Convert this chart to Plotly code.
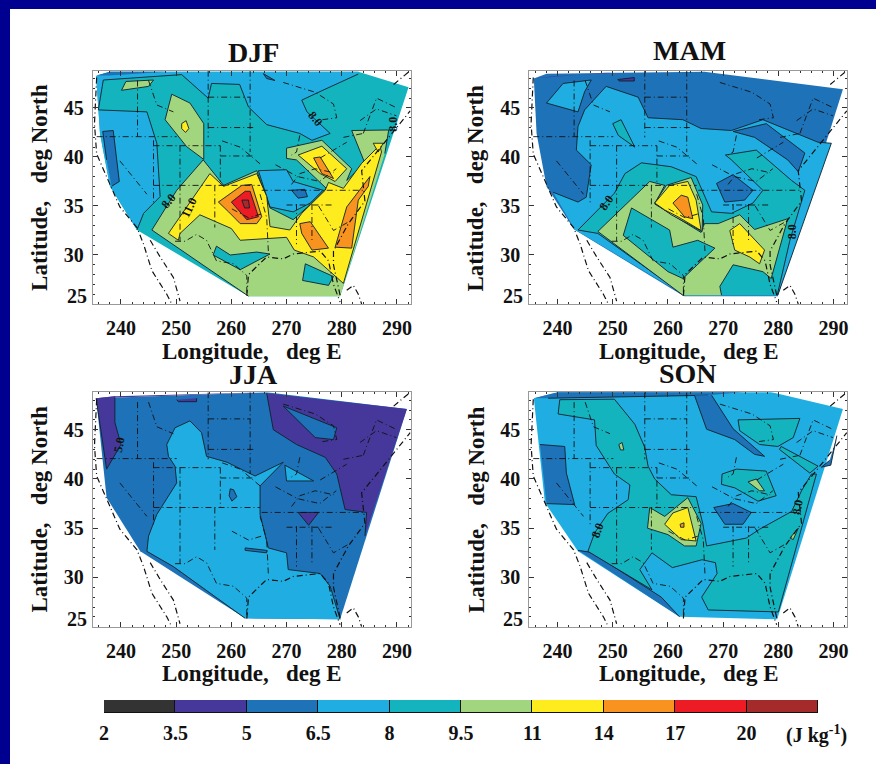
import plotly.graph_objects as go

# contour band lower bounds -> colours
LEVELS = [2, 3.5, 5, 6.5, 8, 9.5, 11, 14, 17, 20]
COLORS = ["#333333", "#45389A", "#1E72B8", "#20AEE2", "#14B4BE", "#A2D67E",
          "#FFEC1E", "#F7931E", "#ED1C24", "#A52A2A"]
COLOR_OF = dict(zip(LEVELS, COLORS))
PANELS = ["DJF", "MAM", "JJA", "SON"]
LON_TICKS = [240, 250, 260, 270, 280, 290]
LAT_TICKS = [30, 35, 40, 45]

DJF_HULL = ([235.5, 238, 283, 292.1, 279.7, 263.1, 242.9, 238, 236.2],
            [48.26, 48.7, 48.7, 47.1, 25.8, 25.8, 32.55, 37, 42.4])
MAM_HULL = ([235.7, 238, 266.6, 291.7, 279.9, 262.9, 243, 238, 236.2],
            [48, 48.5, 48.7, 46.9, 25.8, 25.8, 32.6, 37, 42.4])
JJA_HULL = ([235.5, 266.4, 291.8, 279.7, 262.5, 243.5, 237.4],
            [48.2, 48.8, 47.1, 25.75, 25.85, 32.65, 38.1])
SON_HULL = ([235.7, 240.7, 278.1, 291.7, 279.8, 262.1, 243.7, 237.7],
            [48.2, 48.9, 48.9, 47.1, 25.75, 26, 32.65, 37.6])

# each band: (lower bound, longitudes, latitudes), painted in order
DJF_BANDS = [
    (8, DJF_HULL[0], DJF_HULL[1]),
    (6.5, [235.5, 238, 283, 283, 276.4, 272.75, 273.7, 277.9, 274.6, 272.4, 266.4, 263.1, 261.5, 256.4, 255.8, 251, 236.8, 235.9, 244.7, 246.5, 247.1, 244.1, 242.9, 238, 236.2],
          [48.26, 48.7, 48.7, 48.46, 46.76, 45.8, 44.6, 42.4, 41.7, 42.4, 43.3, 45.1, 47.4, 47.5, 46, 48.4, 47.85, 44.8, 44.6, 41.4, 35.95, 34.25, 32.55, 37, 42.4]),
    (6.5, [264.9, 270, 271.2, 276.6, 274.3, 271.2, 267], [38.6, 38.7, 37.5, 36.6, 35.3, 34.4, 34.9]),
    (5, [235.5, 238, 248.3, 238], [48.3, 48.7, 48.7, 48.3]),
    (5, [236.7, 238.6, 239.7, 238.3, 237.4], [42.6, 42.7, 37.5, 37, 39.7]),
    (5, [270.9, 273.3, 273.8, 272.1], [36.6, 36.7, 35.95, 35.8]),
    (5, [265.8, 267.9, 266.4], [48.5, 47.8, 48]),
    (9.5, [254.9, 258.6, 264.6, 267, 271.2, 274, 277.2, 271.8, 270, 270, 276.4, 281.8, 280.9, 284.2, 281.8, 288.5, 287.8, 280.3, 279.7, 263.1, 245.6, 250.1],
          [39.7, 37.1, 38.6, 34.8, 33.6, 35, 36.8, 39.7, 39.85, 40.9, 41.7, 38.8, 37.6, 39.35, 42.7, 42.75, 40.35, 27.1, 25.8, 25.8, 32.55, 36.6]),
    (9.5, [249.2, 252.5, 255, 255, 251.9, 248], [46.4, 45.5, 43.4, 39.75, 41.05, 43.8]),
    (9.5, [240.1, 240.9, 245.9, 245], [46.8, 47.7, 47.85, 47.2]),
    (11, [251, 251.8, 252.3, 251.7, 251], [43.4, 43.7, 42.9, 42.5, 42.9]),
    (8, [257.3, 259.8, 264.6, 267, 261.6, 256.7], [30.9, 30, 30.3, 30.1, 28.5, 30]),
    (8, [273.4, 278.5, 277.6, 272.9], [29.1, 27.8, 26.9, 27.4]),
    (11, [256.1, 258.6, 264.6, 266.4, 267, 270.6, 272.75, 277, 277.6, 280.3, 283.6, 286.9, 287.2, 280.3, 274.9, 271.4, 270, 261.6, 260, 254.3, 250.7, 250.4, 248.6],
         [38.3, 37, 38.3, 36, 32.9, 32.55, 34.25, 36.6, 37.4, 36.8, 39.35, 41.2, 40.5, 27.1, 29.8, 30.5, 31.8, 31.5, 32.7, 34.1, 32.2, 31.5, 32.2]),
    (11, [272.1, 276.4, 280.9, 278.8, 276.1], [40.2, 41.1, 38.8, 37.5, 38.3]),
    (11, [285.7, 287.5, 286.6], [41.4, 41.4, 40.5]),
    (14, [257.65, 261.9, 263.7, 265.5, 264.6, 261.6, 259.5], [35.4, 37.1, 37.2, 33.9, 33.2, 33.2, 34.4]),
    (17, [260, 262.5, 263.4, 264.9, 262.8], [35.4, 36.5, 36.5, 33.9, 33.6]),
    (20, [261.9, 263.1, 263.3, 262.4], [35.6, 35.6, 34.8, 34.8]),
    (14, [274.9, 276.1, 278.5, 276.4], [39.9, 40, 37.8, 38.3]),
    (14, [272.4, 274.3, 277.6, 274.6, 272.75], [33.2, 33.4, 30.7, 30.5, 32.2]),
    (14, [285.1, 284.8, 283, 281.8, 278.8, 280.9], [38, 37, 35.6, 30.7, 30.8, 34.9]),
]

MAM_BANDS = [
    (5, MAM_HULL[0], MAM_HULL[1]),
    (3.5, [235.7, 248.5, 266.6, 250, 238.9], [48, 48.6, 48.7, 48.6, 48.2]),
    (3.5, [250.9, 253.9, 253.9, 251.2], [47.9, 48.1, 47.75, 47.75]),
    (6.5, [239.2, 243.7, 245.2, 246.1, 243.4, 243.7, 244.9, 248.8, 254.6, 256.4, 262.7, 266, 271.5, 277.2, 287.2, 289.6, 279.9, 263, 243.1],
          [36.4, 35.4, 35.9, 39.2, 40.7, 43.1, 44.8, 47.2, 46.1, 44, 43.8, 42.9, 42.7, 43.8, 41.5, 41.4, 25.9, 25.9, 32.6]),
    (5, [271.8, 277.8, 284.8, 283.6, 281.7, 275.7], [42.6, 43.4, 40.4, 38.5, 39.7, 42]),
    (6.5, [238, 241, 246.1, 244.9, 243.7], [45.5, 47.5, 47.85, 46.65, 44.6]),
    (8, [250, 251.5, 254, 251], [43.4, 43.8, 41, 42.2]),
    (8, [243.7, 250.3, 252.2, 255.2, 260.6, 265.1, 267.9, 271.5, 275.4, 277.2, 271.5, 270.4, 276, 282.4, 284.8, 282.1, 279.8, 263, 247.3],
        [32.55, 36.3, 38.3, 39.4, 39, 38, 34.4, 34.25, 35.3, 36.6, 39.7, 40.2, 40.7, 37.6, 36.6, 31.5, 25.9, 25.9, 32.2]),
    (5, [268.8, 271.8, 275.4, 273.9, 270.3], [37.3, 38.2, 36.6, 35.6, 35.4]),
    (9.5, [247.3, 256.7, 259.4, 257.6, 266, 266.6, 269.1, 273, 275.7, 281.7, 278.7, 277.2, 271.8, 269.4, 269.7, 262.7],
          [32.4, 37.5, 37.1, 35.2, 32.3, 33.2, 33.2, 34.1, 32.6, 33.7, 27.6, 28.3, 29, 26.8, 25.9, 25.9]),
    (8, [253.4, 260.3, 260.9, 265.4, 268.5, 262.7, 260, 251.9], [34.8, 32.55, 30.8, 31.5, 30.7, 27.6, 28.3, 32]),
    (9.5, [257.6, 259.7, 264.2, 266.3, 266.2, 260.6], [35.3, 37.1, 37.9, 35.1, 32.4, 34.1]),
    (11, [257.6, 260.3, 263.6, 265.1, 266, 261.8, 259.4], [35.3, 37.1, 37.5, 35.6, 32.5, 33.9, 34.6]),
    (14, [260.9, 262.4, 263.6, 264.5, 263], [35.3, 36.1, 35.9, 33.7, 33.9]),
    (11, [271.2, 273, 277.5, 276.6, 274.8, 272.1], [32.5, 33.2, 30.5, 29.1, 29.8, 30.5]),
]

JJA_BANDS = [
    (5, JJA_HULL[0], JJA_HULL[1]),
    (3.5, [235.5, 238.9, 238.9, 240, 237.4], [48.2, 48.4, 45.75, 43.5, 41]),
    (3.5, [235.5, 266.4, 238.9], [48.2, 48.8, 48.4]),
    (3.5, [250.1, 253.7, 253.7, 250.4], [48.05, 48.2, 47.85, 47.85]),
    (3.5, [266.4, 291.8, 284.2, 284.5, 280.6, 279.1, 277, 271.8, 267.6], [48.7, 47.1, 34.2, 36.6, 36.9, 40.5, 42.2, 43.5, 45]),
    (5, [269.4, 279.1, 278.5, 275.2], [47.4, 45.2, 44, 44.2]),
    (3.5, [272.1, 275.8, 274], [36.6, 36.6, 35.3]),
    (6.5, [248.3, 249.8, 252.5, 254.6, 255.5, 259.2, 264.3, 269.4, 265.2, 265.2, 266.7, 270, 270.3, 276.1, 277.9, 279.7, 262.5, 249.5, 244.7, 245, 246.5, 250.1, 249.8, 248.6],
          [43.5, 45.2, 45.9, 44.7, 42.3, 41.7, 40.3, 41.7, 39.3, 36.4, 33, 32.5, 30.8, 30.4, 29.1, 25.75, 25.85, 31.1, 32.65, 34.2, 36.4, 39.6, 41.3, 42.3]),
    (6.5, [269.7, 274.9, 270], [41.4, 39.8, 39.8]),
    (5, [259.8, 260.4, 261, 260.1, 259.6], [39, 38.9, 38.2, 37.75, 38.3]),
    (5, [262.5, 266.4, 266.4, 262.5], [33, 32.75, 32.5, 32.75]),
]

SON_BANDS = [
    (6.5, SON_HULL[0], SON_HULL[1]),
    (5, [235.7, 240.7, 275.1, 267.3, 238.3], [48.2, 48.9, 48.9, 48.5, 48.2]),
    (5, [264.8, 267.9, 271.8, 277.5, 275.7, 272.1, 267], [48.5, 48.5, 45.1, 42.3, 42.5, 44, 45.05]),
    (5, [236.8, 241.3, 241.6, 243.1, 238], [43.5, 43.3, 40.6, 37.4, 37.5]),
    (5, [268.3, 271.8, 275.1, 273.6, 270.3], [37.1, 37.5, 36.6, 35.4, 35.4]),
    (5, [290.6, 289.5, 287.8, 289.3, 289.9], [44.4, 41.4, 41.2, 41.9, 43]),
    (5, [243.7, 246.1, 258.8, 262.1], [32.75, 32.55, 28, 26]),
    (8, [240.4, 250.3, 254, 255.8, 256.4, 257.6, 260.6, 265.1, 266.3, 267, 274.2, 276.6, 282.4, 284.2, 286, 286.9, 280, 267.3, 266.1, 268.9, 268.6, 266.2, 260.8, 257.1, 254.9, 257.1, 245.5, 246.7, 249.1, 252.8, 253.1, 250.3, 247, 246.7, 240.1],
        [48.05, 48.1, 45.55, 43.2, 41.3, 40, 38.4, 38.2, 35.5, 33.2, 34, 34.9, 36.7, 38.8, 40.5, 40.5, 26.5, 26.7, 28, 30.4, 31.5, 31.8, 31, 32.5, 30.8, 28.75, 32.65, 34.5, 36.5, 37.9, 39.4, 40.5, 43.4, 46, 46.6]),
    (8, [269.8, 272.4, 277.8, 279.6, 276.3, 272.1, 269.7], [40.5, 41, 40.8, 38.3, 37.75, 39.1, 39.45]),
    (8, [272.7, 283.9, 282.7, 279.9, 276.6, 273], [46, 46.15, 44.2, 43.3, 43.5, 44.9]),
    (8, [280.5, 287.2, 285.7, 280.2], [43.3, 41.3, 40.6, 43]),
    (9.5, [256.7, 259.4, 263.6, 266, 265.1, 263, 260, 256.3], [37.1, 36.2, 38.1, 35.5, 33.2, 33.2, 34.35, 35]),
    (11, [259.4, 260.9, 263.6, 265.1, 262.4], [35.4, 36.55, 37.1, 33.7, 33.85]),
    (14, [262.2, 262.9, 262.9, 262.3], [35.4, 35.55, 35.1, 35.1]),
    (9.5, [274.5, 276, 277.5, 276.6], [39.7, 40, 38.8, 38.8]),
    (9.5, [251.1, 251.7, 252, 251.4], [43.5, 43.7, 42.95, 42.95]),
    (9.5, [282.1, 283.6, 282.7], [34, 35, 33.85]),
]

# map outlines (same for all panels): polylines of lon, lat
COASTS = [
    ([235.6, 235.2, 235.6, 237.7, 239.8, 242.9, 244.1, 245.6, 248.3, 249.2], [48.1, 43.4, 40.3, 37.6, 34.9, 32.8, 31.1, 28.4, 26, 25]),
    ([245.3, 247.1, 249.5, 250.7], [31.5, 29.8, 27.7, 25.3]),
    ([262.8, 263.1, 266.4, 269.4, 271.2, 276.1, 277.6, 278.5, 279.7], [25.85, 28, 29.8, 29.6, 30.1, 30.4, 29.4, 27, 25.2]),
    ([279.7, 278.5, 278.5, 281.2, 284.2, 283.6, 287.5, 292.4], [25.9, 29, 30.4, 33.2, 35.5, 38.6, 41.3, 44.7]),
    ([280.9, 282.1, 283, 283.6], [26.4, 26.9, 26, 25]),
    ([289.4, 292.4], [47.4, 48.8]),
]
BORDERS = [
    ([235.6, 250.1], [42.07, 42.07]), ([245.9, 258], [41.15, 41.15]), ([245.9, 265.2], [37.1, 37.1]),
    ([265.5, 283.9], [36.6, 36.6]), ([270, 278.5], [35.1, 35.1]), ([255.8, 263.4], [46.1, 46.1]),
    ([255.8, 264], [43, 43]), ([258, 264], [40.1, 40.1]),
    ([245.9, 245.9], [41.7, 35.2]), ([243, 243], [47.8, 42.1]), ([250.7, 250.7], [41.15, 31.4]),
    ([258, 258], [41.15, 37.1]), ([257, 257], [37.1, 32.8]), ([255.8, 255.8], [48.8, 42]),
    ([263.4, 263.4], [48.8, 40.5]), ([271.8, 271.8], [35.2, 31.1]), ([274.6, 274.6], [35.2, 31.5]),
    ([249.8, 251.6, 253.7, 255.5, 257.3, 260.4, 262.8, 262.8], [31.4, 31.4, 32.1, 31.5, 29.4, 29.1, 27.9, 25.85]),
    ([245, 246.5, 249.5], [47.8, 45.3, 44.6]), ([239.8, 244.7], [39.6, 36.2]),
    ([265.2, 266.4, 266.7], [36.2, 33.8, 30.4]), ([275.8, 278.5, 281], [35, 32.5, 33.3]),
    ([269.4, 275.2, 278.5, 279.1, 276.5], [47.6, 46.6, 45.4, 44, 43.8]),
    ([272.4, 271.8, 270.9], [42.2, 40.5, 40.2]), ([276.1, 280.9], [39.9, 41.5]),
    ([280.3, 283.9], [42, 42.4]), ([283.9, 286.3, 290], [42.4, 46, 45]),
    ([268, 272, 276, 279], [39.2, 38, 37.5, 38.8]),
    ([270.9, 272.4, 275.2, 278.5], [37.2, 38.3, 38.8, 38.4]), ([260.1, 263.1, 265.5], [34.7, 33.8, 34.2]),
    ([265.2, 261.6, 258], [39.3, 41, 41.7]), ([283.3, 286.3, 289.9], [43.7, 44.9, 44.2]),
]

# contour labels: text, lon, lat, angle
DJF_LABELS = [("8.0", 248.6, 35.5, -50), ("11.0", 252.3, 34.8, -65), ("8.0", 275.3, 43.9, 50), ("8.0", 289.3, 43.3, -90)]
MAM_LABELS = [("8.0", 248.8, 35.3, -55), ("8.0", 282.6, 32.4, -90)]
JJA_LABELS = [("5.0", 239.6, 43.5, -80)]
SON_LABELS = [("8.0", 247.3, 34.8, -70), ("8.0", 283.4, 37.1, -80)]
COLORBAR_TEXT = ["2", "3.5", "5", "6.5", "8", "9.5", "11", "14", "17", "20"]
UNITS_TEXT = "(J kg<sup>-1</sup>)"

BANDS = dict(DJF=DJF_BANDS, MAM=MAM_BANDS, JJA=JJA_BANDS, SON=SON_BANDS)
HULLS = dict(DJF=DJF_HULL, MAM=MAM_HULL, JJA=JJA_HULL, SON=SON_HULL)
LABELS = dict(DJF=DJF_LABELS, MAM=MAM_LABELS, JJA=JJA_LABELS, SON=SON_LABELS)

W, H = 876, 764
FONT = "Liberation Serif"
FRAMES = dict(DJF=(92.7, 410.7, 70.7, 304), MAM=(529.3, 847.3, 70.7, 304),
              JJA=(92.7, 410.7, 392.3, 626.7), SON=(529.3, 847.3, 392.3, 626.7))
TITLE_POS = dict(DJF=(253, 52), MAM=(689, 51), JJA=(253, 374), SON=(688, 373))
TICK_FONT = dict(family=FONT, size=20, color="#111", weight=700)


def seg_dist(px, py, a, b):
    ax, ay = a
    bx, by = b
    dx, dy = bx - ax, by - ay
    t = max(0, min(1, ((px - ax) * dx + (py - ay) * dy) / (dx * dx + dy * dy or 1)))
    return ((px - ax - t * dx) ** 2 + (py - ay - t * dy) ** 2) ** 0.5


def on_hull(p, hull):
    pts = list(zip(hull[0], hull[1]))
    return any(seg_dist(p[0], p[1], pts[i], pts[(i + 1) % len(pts)]) < 0.45 for i in range(len(pts)))


def paper_text(text, px, py, size, angle=0):
    return dict(text=f"<b>{text}</b>", x=px / W, y=1 - py / H, xref="paper", yref="paper", xanchor="center",
                yanchor="middle", textangle=angle, showarrow=False, font=dict(family=FONT, size=size, color="#111"))


fig = go.Figure()
layout = {}
annotations = []
for i, name in enumerate(PANELS, start=1):
    xa, ya = f"x{i}" if i > 1 else "x", f"y{i}" if i > 1 else "y"
    hull = HULLS[name]
    for k, (level, lons, lats) in enumerate(BANDS[name]):
        fig.add_trace(go.Scatter(x=lons + lons[:1], y=lats + lats[:1], mode="lines", fill="toself",
                                 fillcolor=COLOR_OF[level], line=dict(width=0), xaxis=xa, yaxis=ya,
                                 hoverinfo="skip", showlegend=False))
        if k == 0:
            continue
        lx, ly = [], []
        n = len(lons)
        for j in range(n):
            p, q = (lons[j], lats[j]), (lons[(j + 1) % n], lats[(j + 1) % n])
            mid = ((p[0] + q[0]) / 2, (p[1] + q[1]) / 2)
            if on_hull(p, hull) and on_hull(q, hull) and on_hull(mid, hull):
                continue
            lx += [p[0], q[0], None]
            ly += [p[1], q[1], None]
        fig.add_trace(go.Scatter(x=lx, y=ly, mode="lines", line=dict(color="#10202a", width=0.9),
                                 xaxis=xa, yaxis=ya, hoverinfo="skip", showlegend=False))
    for group, width in ((COASTS, 1.2), (BORDERS, 0.9)):
        for lons, lats in group:
            fig.add_trace(go.Scatter(x=lons, y=lats, mode="lines",
                                     line=dict(color="#111111", width=width, dash="6px,3px,1px,3px"),
                                     xaxis=xa, yaxis=ya, hoverinfo="skip", showlegend=False))
    x0, x1, y0, y1 = FRAMES[name]
    suffix = str(i) if i > 1 else ""
    layout["xaxis" + suffix] = dict(
        domain=[x0 / W, x1 / W], range=[234.88, 292.49], anchor=ya, tickvals=LON_TICKS, automargin=False,
        ticks="inside", ticklen=5, tickcolor="#333", mirror="allticks", showline=True, linecolor="#999", linewidth=1,
        minor=dict(dtick=2, ticks="inside", ticklen=2, tickcolor="#333"), showgrid=False, zeroline=False,
        ticklabelstandoff=6, tickfont=TICK_FONT)
    layout["yaxis" + suffix] = dict(
        domain=[1 - y1 / H, 1 - y0 / H], range=[25, 48.8], anchor=xa, tickvals=LAT_TICKS, automargin=False,
        ticks="inside", ticklen=5, tickcolor="#333", mirror="allticks", showline=True, linecolor="#999", linewidth=1,
        minor=dict(dtick=1, ticks="inside", ticklen=2, tickcolor="#333"), showgrid=False, zeroline=False,
        ticklabelstandoff=4, tickfont=TICK_FONT)
    # axis titles and the raised "25" label
    annotations.append(paper_text("Longitude,\u00a0\u00a0\u00a0deg E", x0 + 159.5, y1 + 47, 23))
    annotations.append(paper_text("Latitude,\u00a0\u00a0\u00a0deg North", x0 - 53.5, y0 + 117, 23, -90))
    annotations.append(dict(text="<b>25</b>", x=0, xref=f"{xa} domain", y=25.8, yref=ya, xanchor="right", yanchor="middle",
                            xshift=-4, showarrow=False, font=dict(family=FONT, size=20, color="#111")))
    tx, ty = TITLE_POS[name]
    annotations.append(paper_text(name, tx, ty, 28))
    for text, lon, lat, ang in LABELS[name]:
        annotations.append(dict(text=f"<b>{text}</b>", x=lon, y=lat, xref=xa, yref=ya, textangle=ang,
                                showarrow=False, font=dict(family=FONT, size=12, color="#111")))

# colour scale strip
for idx, color in enumerate(COLORS):
    fig.add_trace(go.Bar(x=[1], y=[0], orientation="h", marker=dict(color=color, line=dict(color="#111", width=1.5)),
                         xaxis="x5", yaxis="y5", width=1, hoverinfo="skip", showlegend=False))
layout["xaxis5"] = dict(domain=[104 / W, 818 / W], range=[0, 10], anchor="y5", tickvals=list(range(10)), automargin=False,
                        ticktext=[f"<b>{t}</b>" for t in COLORBAR_TEXT], ticks="", showline=False, showgrid=False, zeroline=False,
                        ticklabelstandoff=6, tickfont=dict(family=FONT, size=20, color="#111"))
layout["yaxis5"] = dict(domain=[1 - 713 / H, 1 - 700 / H], range=[-0.5, 0.5], anchor="x5", automargin=False,
                        showticklabels=False, ticks="", showgrid=False, zeroline=False, showline=False)
annotations.append(paper_text(UNITS_TEXT, 816, 734, 20))

# navy page border
shapes = [
    dict(type="rect", xref="paper", yref="paper", x0=0, x1=1, y0=1 - 9 / H, y1=1, fillcolor="#000090", line_width=0, layer="below"),
    dict(type="rect", xref="paper", yref="paper", x0=0, x1=10 / W, y0=0, y1=1, fillcolor="#000090", line_width=0, layer="below"),
]
fig.update_layout(width=W, height=H, margin=dict(l=0, r=0, t=0, b=0), paper_bgcolor="white", plot_bgcolor="white",
                  barmode="stack", bargap=0, annotations=annotations, shapes=shapes, showlegend=False, **layout)
fig.write_html("out.html", config=dict(displayModeBar=False),
               post_script="document.body.style.margin='0';document.body.style.overflow='hidden';")
